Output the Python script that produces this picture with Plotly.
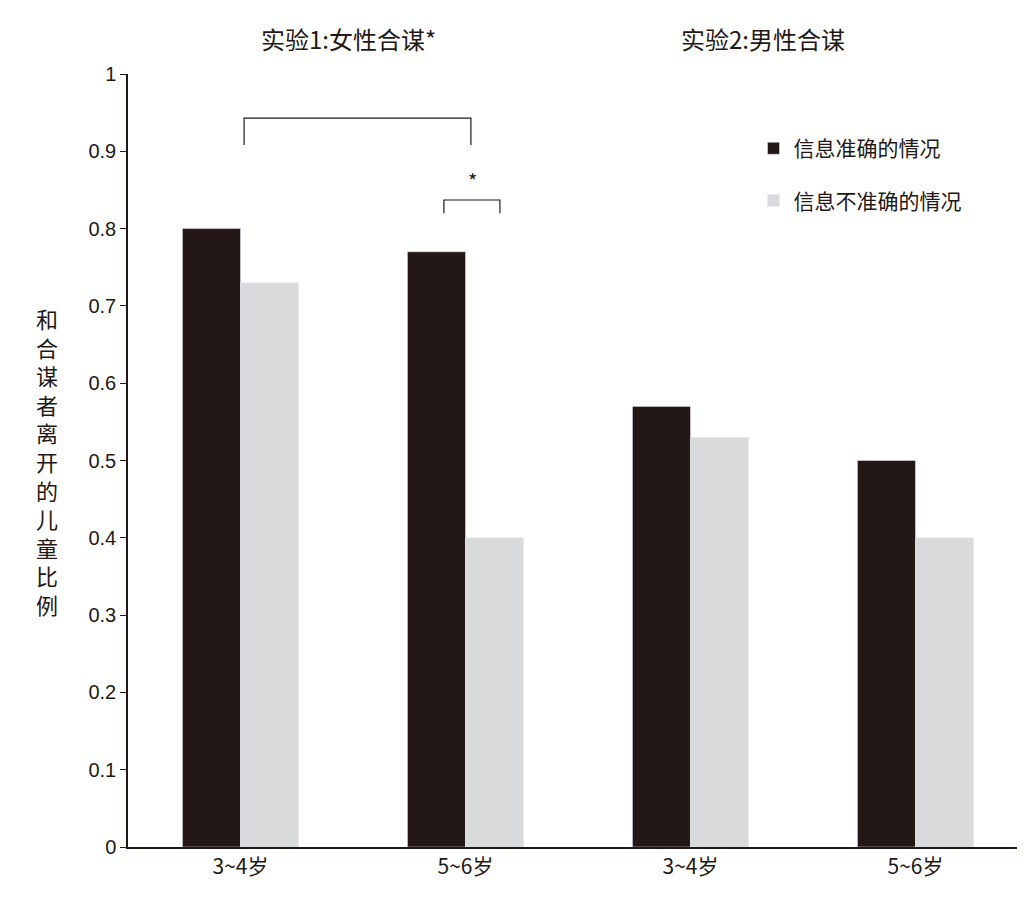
import plotly.graph_objects as go

groups = ['3~4岁', '5~6岁', '3~4岁', '5~6岁']
accurate = [0.80, 0.77, 0.57, 0.50]
inaccurate = [0.73, 0.40, 0.53, 0.40]
yticks = [0, 0.1, 0.2, 0.3, 0.4, 0.5, 0.6, 0.7, 0.8, 0.9, 1]

pos = list(range(len(groups)))
font = 'Noto Sans CJK SC'

fig = go.Figure()
fig.add_trace(go.Bar(x=pos, y=accurate, name='信息准确的情况', marker_color='#231815',
                     offsetgroup=1, legendgroup='a'))
fig.add_trace(go.Bar(x=pos, y=inaccurate, name='信息不准确的情况', marker_color='#d9dadb',
                     offsetgroup=2, legendgroup='b'))

#brackets for significance
line = dict(color='#231815', width=1.2)
fig.add_shape(type='path', path='M 0.016 0.908 L 0.016 0.943 L 1.024 0.943 L 1.024 0.908',
              line=line, xref='x', yref='y')
fig.add_shape(type='path', path='M 0.904 0.820 L 0.904 0.837 L 1.153 0.837 L 1.153 0.820',
              line=line, xref='x', yref='y')
fig.add_annotation(x=1.03, y=0.862, text='*', showarrow=False, font=dict(size=20, color='#231815'))

fig.add_annotation(x=0.478, y=1.0, xref='x', yref='paper', yanchor='bottom', yshift=16,
                   text='实验1:女性合谋*', showarrow=False, font=dict(size=24, color='#231815'))
fig.add_annotation(x=2.32, y=1.0, xref='x', yref='paper', yanchor='bottom', yshift=16,
                   text='实验2:男性合谋', showarrow=False, font=dict(size=24, color='#231815'))
fig.add_annotation(x=-0.105, y=0.5, xref='paper', yref='paper',
                   text='<br>'.join('和合谋者离开的儿童比例'), showarrow=False,
                   font=dict(size=22, color='#231815'))

fig.update_layout(
    width=1025, height=904, plot_bgcolor='white', paper_bgcolor='white',
    margin=dict(l=120, r=5, t=66, b=65),
    font=dict(family=font, color='#231815'),
    bargap=0.484, bargroupgap=0,
    legend=dict(x=0.695, y=0.93, xanchor='left', yanchor='top', font=dict(size=21),
                itemwidth=30, tracegroupgap=22, bgcolor='rgba(0,0,0,0)'),
    showlegend=True,
)
fig.update_xaxes(range=[-0.5, 3.5], tickvals=[-0.5, 0, 0.5, 1, 1.5, 2, 2.5, 3, 3.5],
                 ticktext=['', groups[0], '', groups[1], '', groups[2], '', groups[3], ''],
                 showline=True, linecolor='#231815', linewidth=1.5,
                 ticks='', tickfont=dict(size=21), showgrid=False)
for xv in [0.5, 1.5, 2.5, 3.5]:
    fig.add_shape(type='line', x0=xv, x1=xv, y0=0, y1=-0.01, xref='x', yref='y',
                  line=dict(color='#231815', width=1.5))
fig.update_yaxes(range=[0, 1], tickvals=yticks, ticktext=[('%g' % v) for v in yticks],
                 showline=True, linecolor='#231815', linewidth=1.5, ticks='outside',
                 ticklen=6, tickcolor='#231815', tickfont=dict(size=20, family='Liberation Sans'),
                 showgrid=False, zeroline=False)

fig.write_html('out.html')
